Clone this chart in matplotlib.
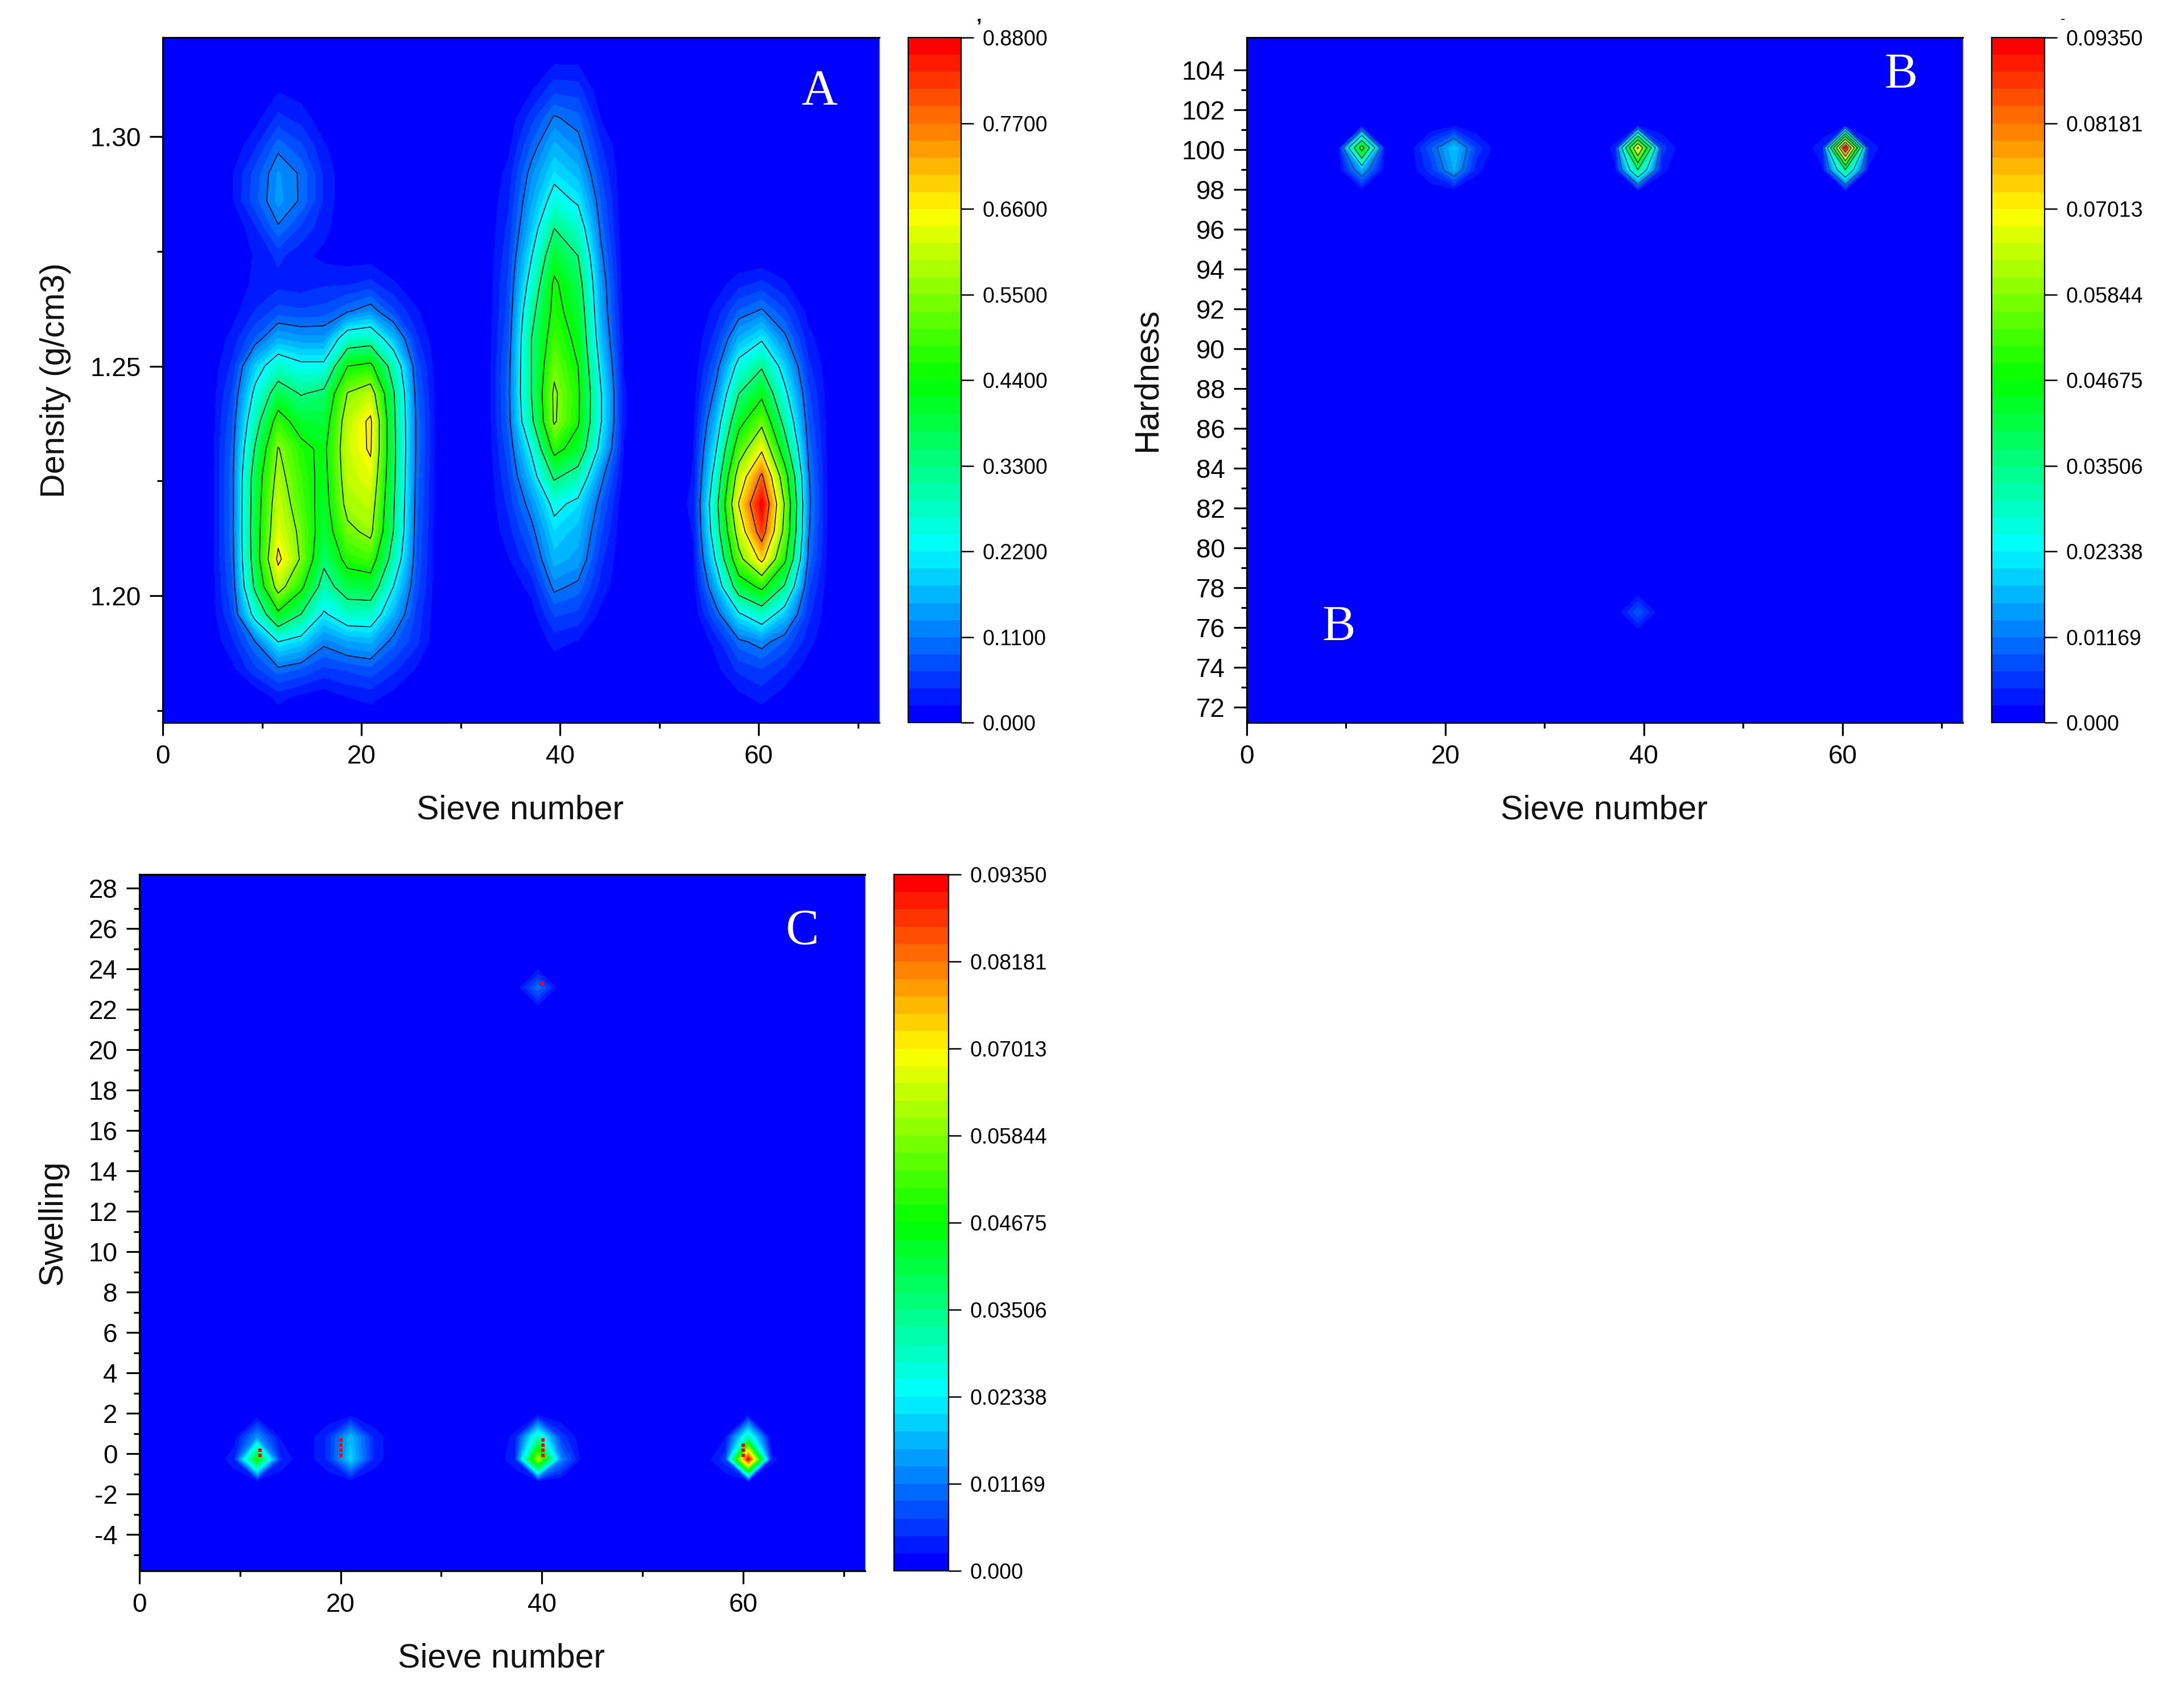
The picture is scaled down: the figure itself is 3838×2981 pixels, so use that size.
import numpy as np
import matplotlib
matplotlib.use('Agg')
import matplotlib.pyplot as plt
from matplotlib.colors import LinearSegmentedColormap

plt.rcParams['font.family'] = ['Liberation Sans', 'DejaVu Sans']

# panel A, density against sieve number
density_rows = [1.172, 1.178, 1.184, 1.190, 1.196, 1.202, 1.208, 1.214, 1.220, 1.226, 1.232, 1.238, 1.244,
                1.250, 1.256, 1.262, 1.268, 1.274, 1.280, 1.286, 1.292, 1.298, 1.304, 1.310, 1.316, 1.322]
sieve_a = [0, 4.6, 7.0, 9.3, 11.6, 13.9, 16.2, 18.6, 20.9, 23.2, 25.5, 27.8, 32.5,
           34.8, 37.1, 39.4, 41.8, 44.1, 46.4, 48.7, 51.1, 53.4, 55.7, 58.0, 60.3, 62.6, 65.0, 67.3, 69.6, 72.1]
blank = [0] * 26
a_07 = [0, 0, .015, .04, .07, .085, .095, .10, .10, .10, .095, .085, .07, .05, .03, .012, 0, 0, 0, .02, .02, .005, 0, 0, 0, 0]
a_09 = [0, 0, .06, .11, .25, .35, .385, .39, .385, .38, .34, .29, .24, .185, .09, .045, .03, .025, .04, .08, .075, .04, .012, 0, 0, 0]
a_12 = [0, .03, .10, .22, .42, .59, .68, .63, .61, .58, .555, .48, .38, .27, .155, .075, .035, .05, .105, .14, .135, .10, .05, .02, 0, 0]
a_14 = [0, .015, .085, .19, .33, .46, .54, .53, .50, .485, .465, .40, .325, .235, .14, .07, .03, .03, .06, .105, .105, .07, .035, .01, 0, 0]
a_16 = [0, .005, .06, .12, .21, .29, .35, .385, .40, .41, .42, .39, .35, .235, .14, .075, .04, .015, .03, .04, .04, .025, .005, 0, 0, 0]
a_19 = [0, .022, .07, .15, .27, .38, .47, .53, .58, .60, .61, .60, .555, .44, .27, .105, .04, .01, 0, 0, 0, 0, 0, 0, 0, 0]
a_21 = [0, .03, .08, .16, .27, .39, .49, .57, .60, .635, .67, .675, .60, .46, .285, .13, .05, .01, 0, 0, 0, 0, 0, 0, 0, 0]
a_23 = [0, .012, .05, .095, .16, .22, .29, .33, .34, .35, .355, .35, .34, .29, .17, .07, .025, 0, 0, 0, 0, 0, 0, 0, 0, 0]
a_25 = [0, 0, .02, .05, .06, .075, .085, .09, .095, .10, .105, .105, .095, .08, .05, .025, .005, 0, 0, 0, 0, 0, 0, 0, 0, 0]
a_35 = [0, 0, 0, 0, 0, .005, .02, .035, .05, .065, .08, .095, .10, .095, .085, .075, .07, .06, .05, .04, .03, .015, .005, 0, 0, 0]
a_37 = [0, 0, 0, 0, .01, .03, .065, .095, .13, .18, .23, .31, .33, .33, .33, .30, .255, .215, .175, .15, .125, .09, .055, .02, 0, 0]
a_39 = [0, 0, .005, .03, .07, .12, .165, .195, .24, .345, .47, .56, .565, .53, .49, .465, .455, .40, .33, .25, .20, .16, .115, .06, .02, 0]
a_42 = [0, 0, 0, .02, .06, .10, .145, .165, .20, .29, .40, .45, .455, .44, .42, .40, .37, .33, .27, .21, .165, .125, .095, .055, .02, 0]
a_44 = [0, 0, 0, .005, .015, .035, .05, .07, .09, .125, .19, .225, .225, .20, .17, .15, .14, .12, .10, .085, .065, .045, .02, .005, 0, 0]
a_46 = [0, 0, 0, 0, 0, 0, 0, 0, .003, .012, .02, .025, .025, .02, .015, .01, .008, .004, 0, 0, 0, 0, 0, 0, 0, 0]
a_53 = [0, 0, 0, 0, .003, .009, .018, .024, .03, .024, .021, .015, .009, .003, 0, 0, 0, 0, 0, 0, 0, 0, 0, 0, 0, 0]
a_56 = [0, 0, .015, .03, .09, .16, .23, .28, .30, .26, .215, .17, .125, .09, .055, .03, .01, 0, 0, 0, 0, 0, 0, 0, 0, 0]
a_58 = [0, .015, .05, .10, .21, .385, .52, .60, .665, .60, .50, .41, .33, .245, .16, .09, .035, 0, 0, 0, 0, 0, 0, 0, 0, 0]
a_60 = [0, .03, .065, .125, .275, .46, .685, .82, .88, .785, .645, .525, .42, .32, .21, .115, .05, 0, 0, 0, 0, 0, 0, 0, 0, 0]
a_63 = [0, .01, .04, .085, .18, .32, .46, .525, .545, .49, .38, .30, .24, .185, .12, .07, .025, 0, 0, 0, 0, 0, 0, 0, 0, 0]
a_65 = [0, 0, .01, .03, .05, .07, .10, .115, .12, .115, .10, .085, .07, .05, .03, .012, 0, 0, 0, 0, 0, 0, 0, 0, 0, 0]
density_values = [blank, blank, a_07, a_09, a_12, a_14, a_16, a_19, a_21, a_23, a_25, blank, blank,
                  a_35, a_37, a_39, a_42, a_44, a_46, blank, blank, a_53, a_56, a_58, a_60, a_63, a_65, blank, blank, blank]

# panel B, hardness
hardness_rows = [71.2, 75.67, 76.78, 77.89, 96.77, 97.88, 98.99, 100.1, 101.21, 102.32, 105.7]
sieve_b = [0, 7.0, 9.3, 11.6, 13.9, 16.2, 18.6, 20.9, 23.2, 25.5, 34.8, 37.1, 39.4, 41.8, 44.1,
           55.7, 58.0, 60.3, 62.6, 65.0, 72.1]
b_blank = [0] * 11
b_09 = [0, 0, 0, 0, 0, 0, .001, .002, 0, 0, 0]
b_12 = [0, 0, 0, 0, 0, 0, .0165, .052, .001, 0, 0]
b_14 = [0, 0, 0, 0, 0, 0, .001, .002, 0, 0, 0]
b_19 = [0, 0, 0, 0, 0, 0, .006, .009, 0, 0, 0]
b_21 = [0, 0, 0, 0, 0, 0, .0165, .019, .002, 0, 0]
b_23 = [0, 0, 0, 0, 0, 0, .003, .006, 0, 0, 0]
b_37 = [0, 0, 0, 0, 0, 0, .002, .003, 0, 0, 0]
b_39 = [0, 0, .009, 0, 0, 0, .035, .072, .002, 0, 0]
b_42 = [0, 0, 0, 0, 0, 0, .003, .006, 0, 0, 0]
b_58 = [0, 0, 0, 0, 0, 0, .002, .004, 0, 0, 0]
b_60 = [0, 0, 0, 0, 0, 0, .035, .0935, .002, 0, 0]
b_63 = [0, 0, 0, 0, 0, 0, .002, .004, 0, 0, 0]
hardness_values = [b_blank, b_blank, b_09, b_12, b_14, b_blank, b_19, b_21, b_23, b_blank, b_blank,
                   b_37, b_39, b_42, b_blank, b_blank, b_58, b_60, b_63, b_blank, b_blank]

# panel C, swelling
swelling_rows = [-5.8, -2.49, -1.38, -0.27, 0.84, 1.95, 3.06, 21.97, 23.09, 24.2, 28.7]
sieve_c = [0, 7.4, 9.4, 11.7, 14.0, 16.3, 18.7, 21.0, 23.3, 25.6, 35.0, 37.3, 39.6, 41.9, 44.2,
           55.9, 58.2, 60.5, 62.8, 65.1, 72.1]
c_09 = [0, 0, 0, .004, .001, 0, 0, 0, 0, 0, 0]
c_12 = [0, 0, 0, .047, .014, 0, 0, 0, 0, 0, 0]
c_14 = [0, 0, 0, .005, .002, 0, 0, 0, 0, 0, 0]
c_19 = [0, 0, 0, .005, .005, 0, 0, 0, 0, 0, 0]
c_21 = [0, 0, .001, .020, .018, .001, 0, 0, 0, 0, 0]
c_23 = [0, 0, 0, .004, .004, 0, 0, 0, 0, 0, 0]
c_37 = [0, 0, 0, .004, .003, 0, 0, 0, 0, 0, 0]
c_39 = [0, 0, 0, .062, .030, .001, 0, 0, .011, 0, 0]
c_42 = [0, 0, 0, .013, .006, 0, 0, 0, 0, 0, 0]
c_58 = [0, 0, 0, .006, .002, 0, 0, 0, 0, 0, 0]
c_60 = [0, 0, 0, .0935, .030, .001, 0, 0, 0, 0, 0]
c_63 = [0, 0, 0, .003, 0, 0, 0, 0, 0, 0, 0]
swelling_values = [b_blank, b_blank, c_09, c_12, c_14, b_blank, c_19, c_21, c_23, b_blank, b_blank,
                   c_37, c_39, c_42, b_blank, b_blank, c_58, c_60, c_63, b_blank, b_blank]

# red specks left over in panel C
speck_x = [12.0, 12.0, 20.0, 20.0, 20.0, 20.0, 40.1, 40.1, 40.1, 40.1, 60.0, 60.0, 60.0, 40.06]
speck_y = [.18, -.08, .69, .43, .18, -.08, .69, .43, .18, -.08, .43, .18, -.08, 23.3]

ticks_a = [0, .11, .22, .33, .44, .55, .66, .77, .88]
labels_a = ['0.000', '0.1100', '0.2200', '0.3300', '0.4400', '0.5500', '0.6600', '0.7700', '0.8800']
ticks_b = [0, .01169, .02338, .03506, .04675, .05844, .07013, .08181, .0935]
labels_b = ['0.000', '0.01169', '0.02338', '0.03506', '0.04675', '0.05844', '0.07013', '0.08181', '0.09350']

W, H = 1568.0, 1218.0
blue_red = LinearSegmentedColormap.from_list('origin', ['#0000ff', '#00ffff', '#00ff00', '#ffff00', '#ff0000'], N=40)


def box(left, top, right, bottom):
    return [left / W, 1 - bottom / H, (right - left) / W, (bottom - top) / H]


def style(ax, xlim, ylim, yticks, yminor, ylabels):
    ax.set_xlim(*xlim)
    ax.set_ylim(*ylim)
    ax.set_xticks([0, 20, 40, 60])
    ax.set_xticks([10, 30, 50, 70], minor=True)
    ax.set_yticks(yticks)
    ax.set_yticklabels(ylabels)
    ax.set_yticks(yminor, minor=True)
    ax.tick_params(which='major', length=16.5, width=2.3, labelsize=33, pad=11)
    ax.tick_params(which='minor', length=7.5, width=2.3)
    for side in ['left', 'bottom', 'top']:
        ax.spines[side].set_linewidth(2.3)
    ax.spines['right'].set_linewidth(1.0)
    ax.spines['right'].set_color('#666666')


def panel(ax_box, cax_box, x, y, z, ticks, labels, lines):
    z = np.array(z).T
    ax = fig.add_axes(ax_box)
    cax = fig.add_axes(cax_box)
    levels = np.linspace(0, ticks[-1], 41)
    cf = ax.contourf(x, y, z, levels=levels, cmap=blue_red)
    if lines:
        ax.contour(x, y, z, levels=ticks[1:-1], colors=lines[0], linewidths=lines[1])
    cb = fig.colorbar(cf, cax=cax, ticks=ticks, drawedges=False)
    cb.ax.set_yticklabels(labels)
    cb.ax.minorticks_off()
    cb.ax.tick_params(length=16, width=1.8, labelsize=27, pad=11)
    cb.outline.set_linewidth(1.6)
    return ax


fig = plt.figure(figsize=(38.38, 29.81), dpi=100)

ax_a = panel(box(117, 27, 631, 519), box(652, 27, 690, 519), sieve_a, density_rows, density_values,
             ticks_a, labels_a, ('black', 1.1))
style(ax_a, (0, 72.1), (1.1724, 1.3215), [1.20, 1.25, 1.30], [1.175, 1.225, 1.275], ['1.20', '1.25', '1.30'])

hard_ticks = list(range(72, 106, 2))
ax_b = panel(box(895, 27, 1409, 519), box(1430, 27, 1468, 519), sieve_b, hardness_rows, hardness_values,
             ticks_b, labels_b, ('#24506b', 1.3))
style(ax_b, (0, 72.1), (71.23, 105.63), hard_ticks, list(range(73, 105, 2)), [str(t) for t in hard_ticks])

swell_ticks = list(range(-4, 30, 2))
ax_c = panel(box(100, 628, 621, 1128), box(642, 628, 681, 1128), sieve_c, swelling_rows, swelling_values,
             ticks_b, labels_b, None)
style(ax_c, (0, 72.1), (-5.79, 28.69), swell_ticks, list(range(-5, 29, 2)), [str(t) for t in swell_ticks])
ax_c.plot(speck_x, speck_y, ls='none', marker='s', ms=4, mew=0, color='#ff0000')

# axis titles are placed by hand
for xt, yt in [(373.5, 582), (1151.5, 582), (360, 1191)]:
    fig.text(xt / W, 1 - yt / H, 'Sieve number', fontsize=42.5, ha='center', va='center', color='#111111')
for xt, yt, s in [(40, 273, 'Density (g/cm3)'), (823.5, 273, 'Hardness'), (38, 878, 'Swelling')]:
    fig.text(xt / W, 1 - yt / H, s, fontsize=42.5, rotation=90, ha='center', va='center', color='#111111')

for xt, yt, s in [(588, 66, 'A'), (1365, 54, 'B'), (961, 451, 'B'), (576, 669, 'C')]:
    fig.text(xt / W, 1 - yt / H, s, fontsize=63, family='Liberation Serif', color='white', ha='center', va='center')

# clipped scraps above the two upper colour bars
fig.text(703 / W, 1 - 12 / H, ',', fontsize=24, fontweight='bold', ha='center', va='center')
fig.text(1481 / W, 1 - 14 / H, '-', fontsize=18, ha='center', va='center')

fig.savefig('out.png', dpi=100)
